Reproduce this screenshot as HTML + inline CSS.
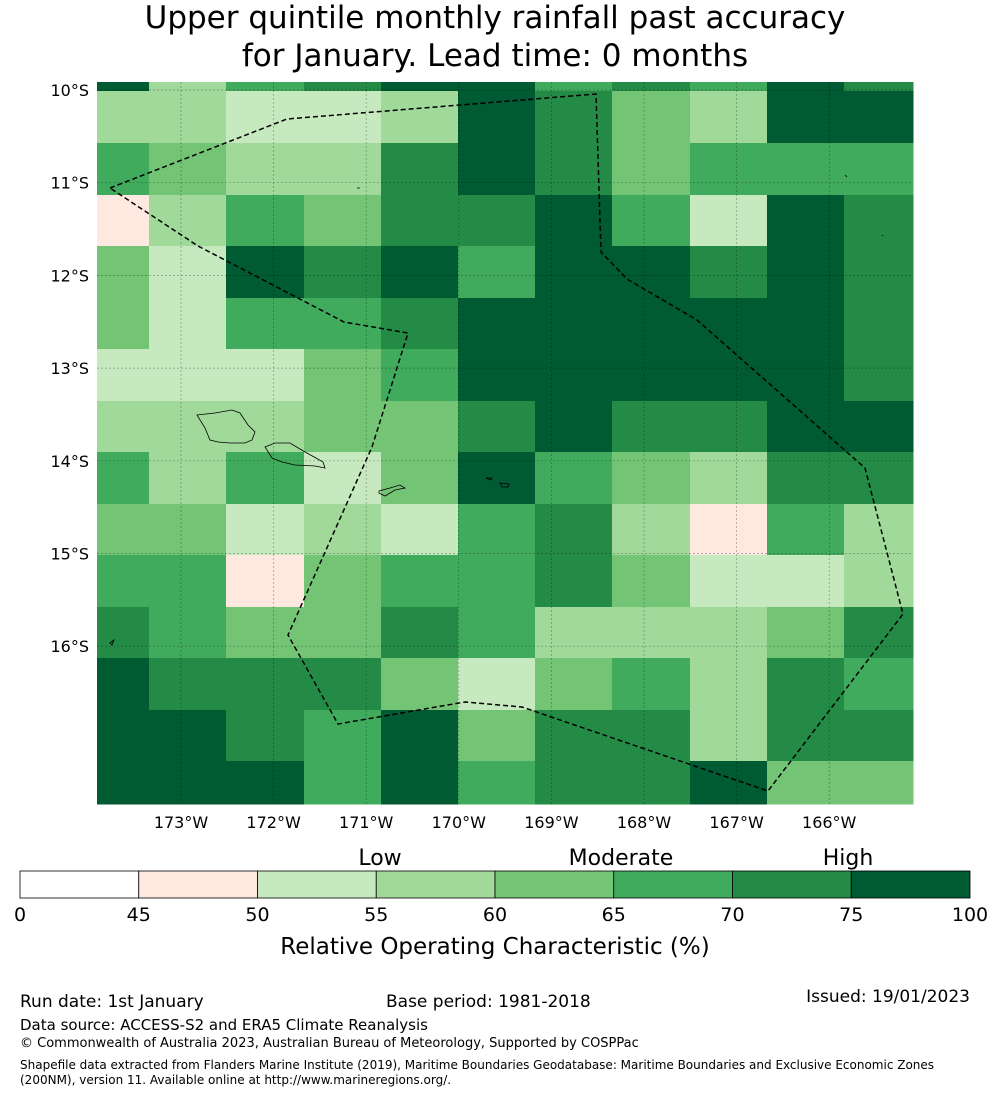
<!DOCTYPE html>
<html><head><meta charset="utf-8"><style>
body{margin:0;background:#fff;font-family:"Liberation Sans","DejaVu Sans",sans-serif}
svg text{font-family:"DejaVu Sans","Liberation Sans",sans-serif}
</style></head><body>
<svg id="chart" width="990" height="1095" xmlns="http://www.w3.org/2000/svg">
<text x="495" y="28" font-size="31" text-anchor="middle">Upper quintile monthly rainfall past accuracy</text>
<text x="495" y="66" font-size="31" text-anchor="middle">for January. Lead time: 0 months</text>
<g id="cells"></g>
<g id="grid"></g>
<polyline fill="none" stroke="#000" stroke-width="1.5" stroke-dasharray="5,3" points="110,188 287,119 596,94 601,252 627,279 697,320 865,468 903,614 768,791 522,707 465,702 338,724 288,635 372,447 408,333 344,322 198,246 110,188"/>
<g fill="none" stroke="#000" stroke-width="0.8">
<path d="M197,415 L215,413 L232,410 L240,413 L248,425 L255,432 L252,440 L245,443 L230,443 L218,442 L210,440 L205,428 Z"/>
<path d="M265,447 L275,443 L290,443 L305,452 L316,458 L323,462 L325,468 L315,466 L295,465 L282,462 L272,458 Z"/>
<path d="M379,491 L390,488 L400,485 L405,488 L395,490 L385,496 L379,493 Z"/>
<path d="M486,478 L492,478 L491,480 Z M500,483 L509,484 L508,487 L502,487 Z"/>
<path d="M110,643 L114,640 L112,645 Z M357,188 L360,188 M845,175 L847,177 M882,235 L883,236"/>
</g>
<g id="ticks"></g>
<g id="cbar"></g>
<text x="380" y="865" font-size="22" text-anchor="middle">Low</text>
<text x="621" y="865" font-size="22" text-anchor="middle">Moderate</text>
<text x="848" y="865" font-size="22" text-anchor="middle">High</text>
<text x="495" y="954" font-size="23" text-anchor="middle">Relative Operating Characteristic (%)</text>
<text x="20" y="1007" font-size="17">Run date: 1st January</text>
<text x="386" y="1007" font-size="17">Base period: 1981-2018</text>
<text x="970" y="1002" font-size="17" text-anchor="end">Issued: 19/01/2023</text>
<text x="20" y="1030" font-size="15">Data source: ACCESS-S2 and ERA5 Climate Reanalysis</text>
<text x="20" y="1047" font-size="13">© Commonwealth of Australia 2023, Australian Bureau of Meteorology, Supported by COSPPac</text>
<text x="20" y="1069" font-size="12">Shapefile data extracted from Flanders Marine Institute (2019), Maritime Boundaries Geodatabase: Maritime Boundaries and Exclusive Economic Zones</text>
<text x="20" y="1084" font-size="12">(200NM), version 11. Available online at http://www.marineregions.org/.</text>
</svg>
<script>
const colors=["#ffffff","#fee8e0","#c7e9c0","#a1d99b","#74c476","#41ab5d","#238b45","#005a32"];
const cbTicks=[0,45,50,55,60,65,70,75,100];
const lonTicks=[-173,-172,-171,-170,-169,-168,-167,-166];
const latTicks=[-10,-11,-12,-13,-14,-15,-16];
const colEdges=[97,149,226,304,381,458,535,612,690,767,844,913];
const rowEdges=[82,91,143,195,246,298,349,401,452,504,555,607,658,710,761,804];
const grid=[
[7,3,5,6,7,7,5,6,5,7,6],
[3,3,2,2,3,7,6,4,3,7,7],
[5,4,3,3,6,7,6,4,5,5,5],
[1,3,5,4,6,6,7,5,2,7,6],
[4,2,7,6,7,5,7,7,6,7,6],
[4,2,5,5,6,7,7,7,7,7,6],
[2,2,2,4,5,7,7,7,7,7,6],
[3,3,3,4,4,6,7,6,6,7,7],
[5,3,5,2,4,7,5,4,3,6,6],
[4,4,2,3,2,5,6,3,1,5,3],
[5,5,1,4,5,5,6,4,2,2,3],
[6,5,4,4,6,5,3,3,3,4,6],
[7,6,6,6,4,2,4,5,3,6,5],
[7,7,6,5,7,4,6,6,3,6,6],
[7,7,7,5,7,5,6,6,7,4,4]];
const NS="http://www.w3.org/2000/svg";
function mk(t,a,p){const e=document.createElementNS(NS,t);for(const k in a)e.setAttribute(k,a[k]);p.appendChild(e);return e;}
const xLon=l=>181+(l+173)*92.6;
const yLat=l=>90+(-10-l)*92.7;
const xCbIdx=i=>20+i*(950/(cbTicks.length-1));
const cg=document.getElementById('cells');
grid.forEach((row,r)=>row.forEach((c,k)=>{
 const e=mk('rect',{x:colEdges[k],y:rowEdges[r],width:colEdges[k+1]-colEdges[k]+0.5,height:rowEdges[r+1]-rowEdges[r]+0.5,fill:colors[c]},cg);
 
 
}));
const gg=document.getElementById('grid'),tg=document.getElementById('ticks');
lonTicks.forEach(l=>{
 const x=xLon(l);
 const ln=mk('line',{x1:x,x2:x,y1:82,y2:804,stroke:'#000','stroke-opacity':0.35,'stroke-width':0.7,'stroke-dasharray':'2,2'},gg);
 
 
 const t=mk('text',{x:x,y:828,'font-size':16,'text-anchor':'middle'},tg);t.textContent=(-l)+'°W';
 
 
});
latTicks.forEach(l=>{
 const y=yLat(l);
 const ln=mk('line',{x1:97,x2:913,y1:y,y2:y,stroke:'#000','stroke-opacity':0.35,'stroke-width':0.7,'stroke-dasharray':'2,2'},gg);
 
 
 const t=mk('text',{x:89,y:y+6,'font-size':16,'text-anchor':'end'},tg);t.textContent=(-l)+'°S';
 
 
});
const cb=document.getElementById('cbar');
for(let i=0;i<cbTicks.length-1;i++){
 const x0=xCbIdx(i),x1=xCbIdx(i+1);
 const r=mk('rect',{x:x0,y:871,width:x1-x0,height:27,fill:colors[i],stroke:'#000','stroke-width':0.8},cb);
 
 
}
cbTicks.forEach((v,i)=>{
 const x=xCbIdx(i);
 const t=mk('text',{x:x,y:921,'font-size':19,'text-anchor':'middle'},cb);t.textContent=v;
 
 
});
</script>
</body></html>
